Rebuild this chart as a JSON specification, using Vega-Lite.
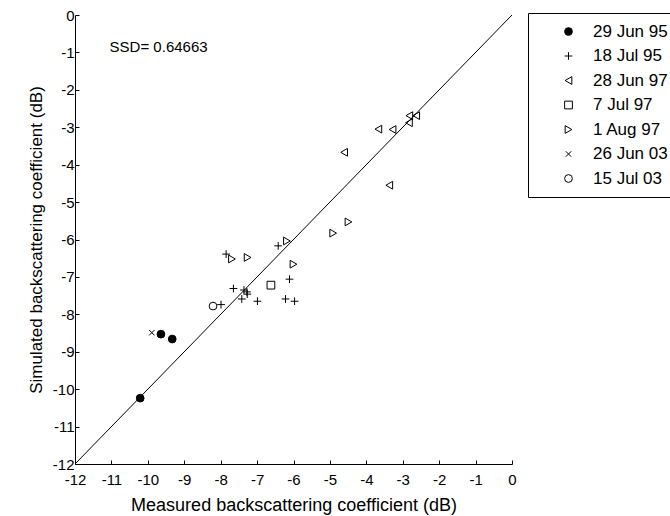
{
  "$schema": "https://vega.github.io/schema/vega-lite/v6.json",
  "width": 437,
  "height": 449,
  "autosize": "none",
  "padding": {"left": 75, "top": 15, "right": 158, "bottom": 52},
  "background": "white",
  "config": {
    "view": {"stroke": null},
    "font": "Liberation Sans",
    "axis": {
      "grid": false,
      "domainColor": "black",
      "tickColor": "black",
      "labelColor": "black",
      "titleColor": "black",
      "labelFontSize": 15,
      "titleFontSize": 17,
      "titleFontWeight": "normal",
      "labelFont": "Liberation Sans",
      "titleFont": "Liberation Sans",
      "tickSize": -4,
      "labelFlush": false,
      "labelOverlap": false
    }
  },
  "encoding": {
    "x": {
      "field": "x",
      "type": "quantitative",
      "scale": {"domain": [-12, 0], "nice": false, "zero": false},
      "axis": {
        "title": "Measured backscattering coefficient (dB)",
        "values": [-12, -11, -10, -9, -8, -7, -6, -5, -4, -3, -2, -1, 0],
        "labelExpr": "datum.value + ''",
        "labelPadding": 12,
        "titlePadding": 9,
        "titleFontSize": 18
      }
    },
    "y": {
      "field": "y",
      "type": "quantitative",
      "scale": {"domain": [-12, 0], "nice": false, "zero": false},
      "axis": {
        "title": "Simulated backscattering coefficient (dB)",
        "values": [-12, -11, -10, -9, -8, -7, -6, -5, -4, -3, -2, -1, 0],
        "labelExpr": "datum.value + ''",
        "labelPadding": 5,
        "titlePadding": 7
      }
    }
  },
  "layer": [
    {
      "data": {"values": [{"x": -12, "y": -12}, {"x": 0, "y": 0}]},
      "mark": {"type": "line", "color": "black", "strokeWidth": 1}
    },
    {
      "data": {
        "values": [
          {"date": "29 Jun 95", "x": -9.64, "y": -8.53},
          {"date": "29 Jun 95", "x": -9.33, "y": -8.66},
          {"date": "29 Jun 95", "x": -10.21, "y": -10.24},
          {"date": "18 Jul 95", "x": -7.85, "y": -6.39},
          {"date": "18 Jul 95", "x": -6.42, "y": -6.17},
          {"date": "18 Jul 95", "x": -6.11, "y": -7.06},
          {"date": "18 Jul 95", "x": -7.65, "y": -7.31},
          {"date": "18 Jul 95", "x": -7.36, "y": -7.35},
          {"date": "18 Jul 95", "x": -7.28, "y": -7.4},
          {"date": "18 Jul 95", "x": -7.27, "y": -7.46},
          {"date": "18 Jul 95", "x": -7.42, "y": -7.59},
          {"date": "18 Jul 95", "x": -6.99, "y": -7.65},
          {"date": "18 Jul 95", "x": -6.22, "y": -7.59},
          {"date": "18 Jul 95", "x": -5.97, "y": -7.65},
          {"date": "18 Jul 95", "x": -7.99, "y": -7.74},
          {"date": "28 Jun 97", "x": -2.82, "y": -2.69},
          {"date": "28 Jun 97", "x": -2.63, "y": -2.69},
          {"date": "28 Jun 97", "x": -2.83, "y": -2.88},
          {"date": "28 Jun 97", "x": -3.67, "y": -3.05},
          {"date": "28 Jun 97", "x": -3.28, "y": -3.06},
          {"date": "28 Jun 97", "x": -4.61, "y": -3.67},
          {"date": "28 Jun 97", "x": -3.37, "y": -4.55},
          {"date": "7 Jul 97", "x": -6.62, "y": -7.22},
          {"date": "1 Aug 97", "x": -7.69, "y": -6.52},
          {"date": "1 Aug 97", "x": -7.26, "y": -6.48},
          {"date": "1 Aug 97", "x": -6.18, "y": -6.04},
          {"date": "1 Aug 97", "x": -6.0, "y": -6.66},
          {"date": "1 Aug 97", "x": -4.91, "y": -5.83},
          {"date": "1 Aug 97", "x": -4.49, "y": -5.53},
          {"date": "26 Jun 03", "x": -9.89, "y": -8.49},
          {"date": "15 Jul 03", "x": -8.21, "y": -7.78}
        ]
      },
      "mark": {"type": "point", "strokeWidth": 1, "size": 60, "opacity": 1},
      "encoding": {
        "shape": {
          "field": "date",
          "type": "nominal",
          "scale": {
            "domain": ["29 Jun 95", "18 Jul 95", "28 Jun 97", "7 Jul 97", "1 Aug 97", "26 Jun 03", "15 Jul 03"],
            "range": ["circle", "M-1,0H1M0,-1V1", "triangle-left", "square", "triangle-right", "M-0.7,-0.7L0.7,0.7M-0.7,0.7L0.7,-0.7", "circle"]
          },
          "legend": {
            "title": null,
            "orient": "none",
            "legendX": 453,
            "legendY": -2,
            "padding": 10,
            "strokeColor": "black",
            "fillColor": "white",
            "symbolSize": 60,
            "symbolStrokeWidth": 1,
            "symbolOffset": 22,
            "labelOffset": 16,
            "labelFontSize": 17,
            "labelColor": "black",
            "labelFont": "Liberation Sans",
            "rowPadding": 6.5,
            "cornerRadius": 0
          }
        },
        "fill": {
          "field": "date",
          "type": "nominal",
          "scale": {
            "domain": ["29 Jun 95", "18 Jul 95", "28 Jun 97", "7 Jul 97", "1 Aug 97", "26 Jun 03", "15 Jul 03"],
            "range": ["black", "transparent", "transparent", "transparent", "transparent", "transparent", "transparent"]
          },
          "legend": {
            "title": null,
            "orient": "none",
            "legendX": 453,
            "legendY": -2,
            "padding": 10,
            "strokeColor": "black",
            "fillColor": "white",
            "symbolSize": 60,
            "symbolStrokeWidth": 1,
            "symbolOffset": 22,
            "labelOffset": 16,
            "labelFontSize": 17,
            "labelColor": "black",
            "labelFont": "Liberation Sans",
            "rowPadding": 6.5,
            "cornerRadius": 0
          }
        },
        "stroke": {
          "field": "date",
          "type": "nominal",
          "scale": {
            "domain": ["29 Jun 95", "18 Jul 95", "28 Jun 97", "7 Jul 97", "1 Aug 97", "26 Jun 03", "15 Jul 03"],
            "range": ["black", "black", "black", "black", "black", "black", "black"]
          },
          "legend": {
            "title": null,
            "orient": "none",
            "legendX": 453,
            "legendY": -2,
            "padding": 10,
            "strokeColor": "black",
            "fillColor": "white",
            "symbolSize": 60,
            "symbolStrokeWidth": 1,
            "symbolOffset": 22,
            "labelOffset": 16,
            "labelFontSize": 17,
            "labelColor": "black",
            "labelFont": "Liberation Sans",
            "rowPadding": 6.5,
            "cornerRadius": 0
          }
        }
      }
    },
    {
      "data": {"values": [{"x": -11.05, "y": -0.86, "label": "SSD= 0.64663"}]},
      "mark": {"type": "text", "align": "left", "baseline": "middle", "fontSize": 15, "font": "Liberation Sans", "color": "black"},
      "encoding": {"text": {"field": "label", "type": "nominal"}}
    }
  ]
}
